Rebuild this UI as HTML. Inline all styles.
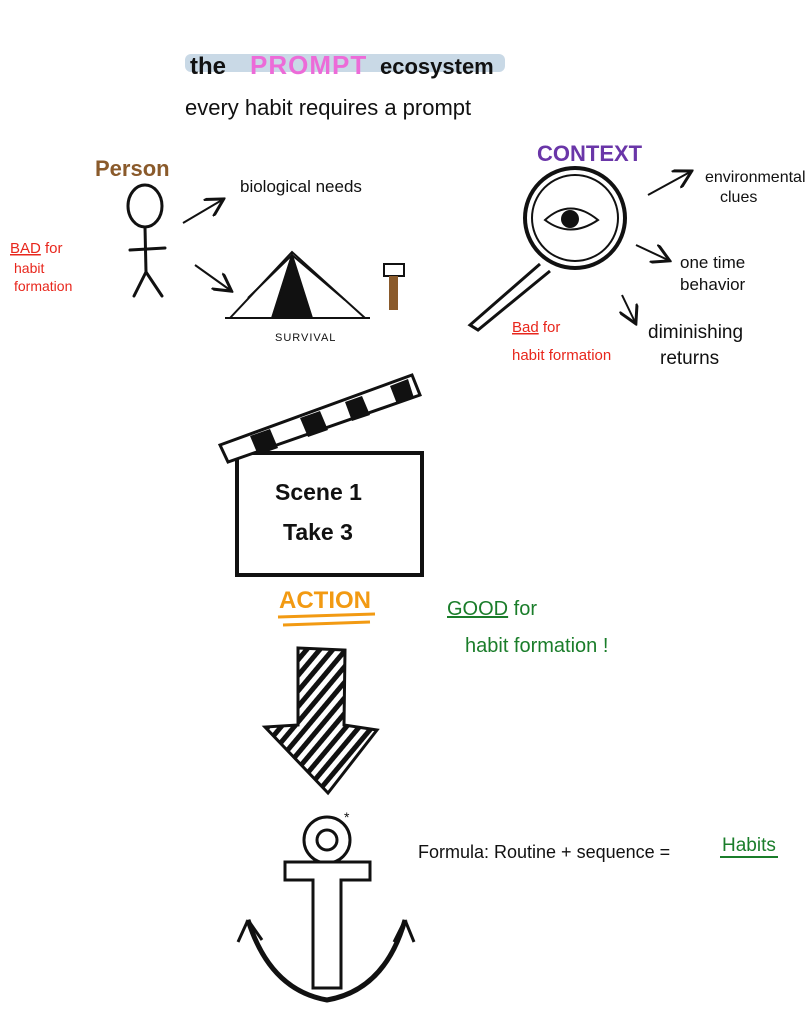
<!DOCTYPE html>
<html><head><meta charset="utf-8"><style>
html,body{margin:0;padding:0;background:#fff;}
svg{display:block;}
text{font-family:"Liberation Sans",sans-serif;}
</style></head><body>
<svg width="807" height="1024" viewBox="0 0 807 1024" xmlns="http://www.w3.org/2000/svg">
<defs>
<pattern id="hatch" width="10" height="10" patternUnits="userSpaceOnUse" patternTransform="rotate(40)">
<rect width="10" height="10" fill="#fff"/><rect width="5" height="10" fill="#111"/>
</pattern>
<marker id="ar" markerWidth="10" markerHeight="10" refX="8" refY="5" orient="auto"><path d="M0,0 L9,5 L0,10" fill="none" stroke="#111" stroke-width="1.5"/></marker>
</defs>
<rect x="185" y="54" width="320" height="18" fill="#c9d9e6" rx="6"/>
<text x="190" y="74" font-size="24" font-weight="bold" fill="#111">the</text>
<text x="250" y="74" font-size="26" font-weight="bold" fill="#ec6bd8" letter-spacing="1">PROMPT</text>
<text x="380" y="74" font-size="22" font-weight="bold" fill="#111">ecosystem</text>
<text x="185" y="115" font-size="22" fill="#111">every habit requires a prompt</text>

<text x="95" y="176" font-size="22" font-weight="bold" fill="#8a5a2b">Person</text>
<ellipse cx="145" cy="206" rx="17" ry="21" fill="none" stroke="#111" stroke-width="3"/>
<g stroke="#111" stroke-width="3" fill="none" stroke-linecap="round">
<path d="M145 227 L146 272"/><path d="M130 250 L165 248"/><path d="M146 272 L134 296"/><path d="M146 272 L162 296"/>
</g>
<text x="10" y="253" font-size="15" fill="#e8261c"><tspan text-decoration="underline">BAD</tspan> for</text>
<text x="14" y="273" font-size="14" fill="#e8261c">habit</text>
<text x="14" y="291" font-size="14" fill="#e8261c">formation</text>
<line x1="183" y1="223" x2="222" y2="200" stroke="#111" stroke-width="2" marker-end="url(#ar)"/>
<text x="240" y="192" font-size="17" fill="#111">biological needs</text>
<line x1="195" y1="265" x2="230" y2="290" stroke="#111" stroke-width="2" marker-end="url(#ar)"/>
<g stroke="#111" stroke-width="2" fill="none">
<path d="M230 318 L292 252 L365 318"/><path d="M248 298 L292 255 L345 300"/>
<path d="M225 318 L370 318"/>
<path d="M292 255 L272 318 L312 318 Z" fill="#111"/>
</g>
<rect x="384" y="264" width="20" height="12" fill="#fff" stroke="#111" stroke-width="2"/>
<rect x="389" y="276" width="9" height="34" fill="#8a5a2b"/>
<text x="275" y="341" font-size="11" fill="#111" letter-spacing="1">SURVIVAL</text>

<text x="537" y="161" font-size="22" font-weight="bold" fill="#6a36a8">CONTEXT</text>
<circle cx="575" cy="218" r="50" fill="none" stroke="#111" stroke-width="4"/>
<circle cx="575" cy="218" r="43" fill="none" stroke="#111" stroke-width="2"/>
<path d="M545 220 Q570 197 598 220 Q570 239 545 220 Z" fill="none" stroke="#111" stroke-width="2"/>
<circle cx="570" cy="219" r="9" fill="#111"/>
<path d="M540 264 L470 325 L478 330 L550 271" fill="none" stroke="#111" stroke-width="3"/>
<line x1="648" y1="195" x2="690" y2="172" stroke="#111" stroke-width="2" marker-end="url(#ar)"/>
<text x="705" y="182" font-size="16" fill="#111">environmental</text>
<text x="720" y="202" font-size="16" fill="#111">clues</text>
<line x1="636" y1="245" x2="668" y2="260" stroke="#111" stroke-width="2" marker-end="url(#ar)"/>
<text x="680" y="268" font-size="17" fill="#111">one time</text>
<text x="680" y="290" font-size="17" fill="#111">behavior</text>
<line x1="622" y1="295" x2="635" y2="322" stroke="#111" stroke-width="2" marker-end="url(#ar)"/>
<text x="648" y="338" font-size="19" fill="#111">diminishing</text>
<text x="660" y="364" font-size="19" fill="#111">returns</text>
<text x="512" y="332" font-size="15" fill="#e8261c"><tspan text-decoration="underline">Bad</tspan> for</text>
<text x="512" y="360" font-size="15" fill="#e8261c">habit formation</text>

<rect x="237" y="453" width="185" height="122" fill="#fff" stroke="#111" stroke-width="4"/>
<path d="M220 445 L412 375 L420 395 L228 462 Z" fill="#fff" stroke="#111" stroke-width="3"/>
<g fill="#111">
<path d="M250 436 L270 429 L278 448 L258 455Z"/>
<path d="M300 418 L320 411 L328 430 L308 437Z"/>
<path d="M345 402 L362 396 L370 415 L352 421Z"/>
<path d="M390 386 L408 379 L414 398 L397 404Z"/>
</g>
<text x="275" y="500" font-size="23" font-weight="bold" fill="#111">Scene 1</text>
<text x="283" y="540" font-size="23" font-weight="bold" fill="#111">Take 3</text>

<text x="279" y="608" font-size="24" font-weight="bold" fill="#f29a12">ACTION</text>
<path d="M278 617 L375 614 M283 625 L370 622" stroke="#f29a12" stroke-width="3" fill="none"/>
<text x="447" y="615" font-size="20" fill="#1a7d2a"><tspan text-decoration="underline">GOOD</tspan>   for</text>
<text x="465" y="652" font-size="20" fill="#1a7d2a">habit formation !</text>

<path d="M298 648 L345 650 L344 725 L377 730 L328 793 L265 727 L298 725 Z" fill="url(#hatch)" stroke="#111" stroke-width="3"/>

<g stroke="#111" stroke-width="3" fill="#fff">
<circle cx="327" cy="840" r="23"/><circle cx="327" cy="840" r="10"/>
<path d="M285 862 L370 862 L370 880 L341 880 L341 988 L313 988 L313 880 L285 880 Z"/>
<path d="M248 920 Q270 990 327 1000 Q385 990 405 920" fill="none" stroke-width="5"/>
<path d="M248 920 L262 940 M248 920 L238 942 M405 920 L394 942 M405 920 L414 942" fill="none"/>
</g>
<text x="344" y="822" font-size="14" fill="#111">*</text>
<text x="418" y="858" font-size="18" fill="#111">Formula: Routine + sequence =</text>
<text x="722" y="851" font-size="19" fill="#1a7d2a">Habits</text>
<line x1="720" y1="857" x2="778" y2="857" stroke="#1a7d2a" stroke-width="2"/>
</svg>
</body></html>
